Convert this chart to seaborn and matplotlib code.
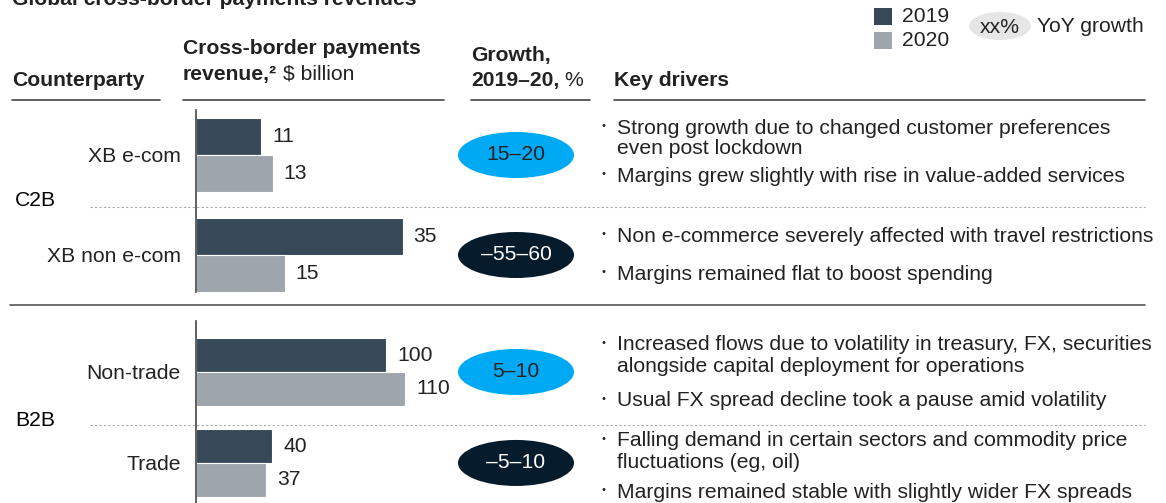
import matplotlib
matplotlib.use('Agg')
import matplotlib.pyplot as plt
from matplotlib.patches import Ellipse, Rectangle
import pandas as pd
import seaborn as sns

# ---- data ----
segments_c2b = ["XB e-com", "XB non e-com"]
rev2019_c2b = [11, 35]
rev2020_c2b = [13, 15]
growth_c2b = ["15\u201320", "\u201355\u201360"]
growth_sign_c2b = [1, -1]

segments_b2b = ["Non-trade", "Trade"]
rev2019_b2b = [100, 40]
rev2020_b2b = [110, 37]
growth_b2b = ["5\u201310", "\u20135\u201310"]
growth_sign_b2b = [1, -1]

years = ["2019", "2020"]

drivers_c2b = [
    [["Strong growth due to changed customer preferences", "even post lockdown"],
     ["Margins grew slightly with rise in value-added services"]],
    [["Non e-commerce severely affected with travel restrictions"],
     ["Margins remained flat to boost spending"]],
]
drivers_b2b = [
    [["Increased flows due to volatility in treasury, FX, securities",
      "alongside capital deployment for operations"],
     ["Usual FX spread decline took a pause amid volatility"]],
    [["Falling demand in certain sectors and commodity price",
      "fluctuations (eg, oil)"],
     ["Margins remained stable with slightly wider FX spreads"]],
]

# ---- style ----
sns.set_theme(style="white")
plt.rcParams['font.family'] = ['Liberation Sans', 'DejaVu Sans']

DARK = "#374858"
LIGHT = "#9ea5ad"
BLUE = "#00a9f4"
NAVY = "#061c2c"
TXT = "#222222"
FS = 15.2

W, H = 1166, 503
fig = plt.figure(figsize=(W / 100, H / 100), dpi=100)
renderer = fig.canvas.get_renderer()


def rect(x0, y0, x1, y1):
    return [x0 / W, 1 - y1 / H, (x1 - x0) / W, (y1 - y0) / H]


# overlay in pixel coordinates for headers, rules and text
ov = fig.add_axes([0, 0, 1, 1])
ov.set_xlim(0, W)
ov.set_ylim(H, 0)
ov.axis('off')


def bold_then_plain(x, y, bold, plain, gap=8):
    t = ov.text(x, y, bold, fontsize=FS, fontweight='bold', color=TXT,
                va='center')
    w = t.get_window_extent(renderer).width
    ov.text(x + w + gap, y, plain, fontsize=FS, color=TXT, va='center')


def panel(segments, v19, v20, growth, signs, drivers, top, bottom, ylim,
          ppu, driver_y):
    df = pd.DataFrame({
        "segment": segments * 2,
        "revenue": v19 + v20,
        "year": [years[0]] * len(segments) + [years[1]] * len(segments),
    })
    ax = fig.add_axes(rect(196, top, 446, bottom))
    sns.barplot(data=df, y="segment", x="revenue", hue="year",
                palette=[DARK, LIGHT], saturation=1, width=0.74,
                edgecolor="white", linewidth=0.8, legend=False, ax=ax)
    ax.set_ylim(*ylim)
    ax.set_xlim(0, 250 / ppu)
    for c in ax.containers:
        ax.bar_label(c, padding=8, fontsize=FS, color=TXT)
    ax.set_xlabel("")
    ax.set_ylabel("")
    ax.set_xticks([])
    ax.tick_params(axis='y', length=0, pad=11, labelsize=FS, labelcolor=TXT)
    for s in ["top", "right", "bottom"]:
        ax.spines[s].set_visible(False)
    ax.spines["left"].set_color("#444444")
    ax.spines["left"].set_linewidth(1.2)
    ax.patch.set_alpha(0)

    # growth ovals
    gx = fig.add_axes(rect(458, top, 574, bottom), sharey=ax)
    gx.set_xlim(0, 1)
    gx.axis('off')
    ppy = (bottom - top) / abs(ylim[0] - ylim[1])
    for i, (g, s) in enumerate(zip(growth, signs)):
        fc = BLUE if s > 0 else NAVY
        gx.add_patch(Ellipse((0.5, i), 1.0, 46 / ppy, facecolor=fc,
                             edgecolor='none'))
        gx.text(0.5, i, g, ha='center', va='center', fontsize=FS,
                color=TXT if s > 0 else "white")

    # key drivers
    for row, ys in zip(drivers, driver_y):
        for bullet, y in zip(row, ys):
            ov.text(601, y - 2, "\u2022", fontsize=8, color=TXT,
                    ha='left', va='center')
            for k, line in enumerate(bullet):
                ov.text(617, y + 21 * k, line, fontsize=FS, color=TXT,
                        ha='left', va='center')
    return ax


panel(segments_c2b, rev2019_c2b, rev2020_c2b, growth_c2b, growth_sign_c2b,
      drivers_c2b, 110, 292, (1.37, -0.45), 5.9,
      [[128, 176], [236, 274]])
panel(segments_b2b, rev2019_b2b, rev2020_b2b, growth_b2b, growth_sign_b2b,
      drivers_b2b, 321, 503, (1.44, -0.56), 1.9,
      [[345, 401], [441, 492]])

# title (cut off at the top, as in the source)
ov.text(12, 5, "Global cross-border payments revenues\u00b9", fontsize=FS,
        fontweight='bold', color=TXT, ha='left', va='baseline')

# column headers
ov.text(12, 80, "Counterparty", fontsize=FS, fontweight='bold', color=TXT,
        va='center')
ov.text(183, 48, "Cross-border payments", fontsize=FS, fontweight='bold',
        color=TXT, va='center')
bold_then_plain(183, 74, "revenue,\u00b2", "$ billion", gap=6)
ov.text(471, 55, "Growth,", fontsize=FS, fontweight='bold', color=TXT,
        va='center')
bold_then_plain(471, 80, "2019\u201320,", "%", gap=5)
ov.text(614, 80, "Key drivers", fontsize=FS, fontweight='bold', color=TXT,
        va='center')
for x0, x1 in [(12, 160), (183, 444), (471, 590), (614, 1145)]:
    ov.plot([x0, x1], [100, 100], color="#444444", lw=1.2)

# group labels and separators
ov.text(15, 200, "C2B", fontsize=FS, color="black", va='center')
ov.text(15, 420, "B2B", fontsize=FS, color="black", va='center')
ov.plot([90, 1145], [207, 207], color="#aaaaaa", lw=0.8, ls=(0, (2, 2)))
ov.plot([90, 1145], [425, 425], color="#aaaaaa", lw=0.8, ls=(0, (2, 2)))
ov.plot([10, 1145], [305, 305], color="#555555", lw=1.2)

# legend
ov.add_patch(Rectangle((874, 8), 18, 17, facecolor=DARK, edgecolor='none'))
ov.add_patch(Rectangle((874, 32), 18, 17, facecolor=LIGHT, edgecolor='none'))
ov.text(902, 16, years[0], fontsize=FS, color=TXT, va='center')
ov.text(902, 40, years[1], fontsize=FS, color=TXT, va='center')
ov.add_patch(Ellipse((1000, 26), 62, 28, facecolor="#e6e6e6", edgecolor='none'))
ov.text(1000, 27, "xx%", fontsize=FS, color=TXT, ha='center', va='center')
ov.text(1037, 26, "YoY growth", fontsize=FS, color=TXT, va='center')

fig.savefig("out.png", dpi=100)
